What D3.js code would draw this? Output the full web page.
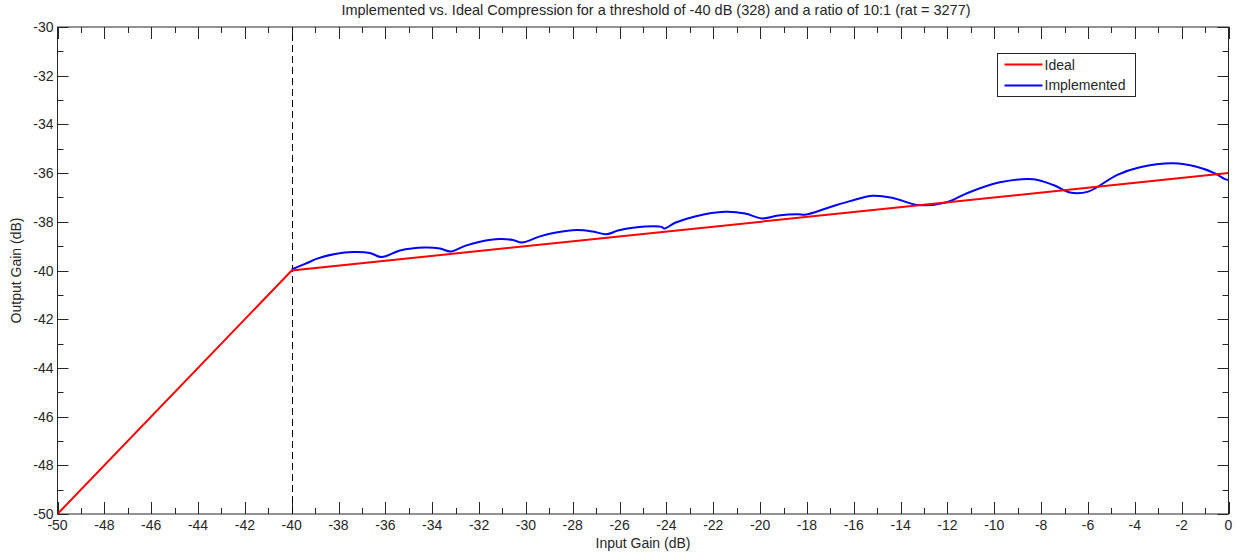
<!DOCTYPE html>
<html>
<head>
  <meta charset="UTF-8">
  <style>
    body { margin: 0; background: #fff; }
    text { font-family: "Liberation Sans", Arial, sans-serif; fill: #262626; }
  </style>
</head>
<body>
<svg></svg>
<script src="https://d3js.org/d3.v7.min.js"></script>

<script>

let width = 1238, height = 556;
let margin = {top: 27, right: 9.5, bottom: 42, left: 57.5};

// ideal compression curve (input dB, output dB)
const idealX = [-50, -40, 0];
const idealY = [-50, -40, -36];

// implemented curve
const implX = [-40, -39.43, -38.88, -38.15, -37.37, -36.66, -36.16,
    -35.38, -34.31, -33.67, -33.21,
    -32.60, -31.96, -31.11, -30.55, -30.17,
    -29.40, -28.71, -27.83, -27.14, -26.55,
    -26.07, -25.43, -24.20, -24.10,
    -23.63, -22.78, -21.50, -20.64, -19.93,
    -19.23, -18.38, -18.08,
    -17.00, -16.16, -15.18, -14.33, -13.25,
    -12.03, -11.18, -9.76, -8.34, -7.48, -6.77, -5.99,
    -4.77, -3.78, -2.36, -1.36, -0.58, -0.15, 0];
const implY = [-39.95, -39.73, -39.50, -39.32, -39.24, -39.28, -39.45,
    -39.18, -39.06, -39.10, -39.22,
    -38.99, -38.82, -38.71, -38.75, -38.85,
    -38.60, -38.44, -38.34, -38.40, -38.51,
    -38.36, -38.24, -38.21, -38.28,
    -38.04, -37.78, -37.59, -37.66, -37.86,
    -37.74, -37.69, -37.71,
    -37.39, -37.15, -36.93, -37.02, -37.31,
    -37.20, -36.83, -36.38, -36.25, -36.49, -36.80, -36.76,
    -36.08, -35.76, -35.60, -35.74, -36.01, -36.25, -36.28];

const threshold = -40;
const xTicks = d3.range(-50, 1, 2);
const yTicks = d3.range(-50, -29, 2);
const xMinor = d3.range(-49, 0, 2);
const yMinor = d3.range(-49, -30, 2);

const titleText = "Implemented vs. Ideal Compression for a threshold of -40 dB (328) and a ratio of 10:1 (rat = 3277)";
const xLabel = "Input Gain (dB)";
const yLabel = "Output Gain (dB)";
const legendNames = ["Ideal", "Implemented"];
const legendColors = ["#ff0000", "#0000ff"];

let svg = d3.select("svg")
    .attr("width", width)
    .attr("height", height);

let x = d3.scaleLinear().domain([-50, 0]).range([margin.left, width - margin.right]);
let y = d3.scaleLinear().domain([-50, -30]).range([height - margin.bottom, margin.top]);

let x0 = x.range()[0], x1 = x.range()[1];
let y0 = y.range()[0], y1 = y.range()[1];

// ticks, drawn inward on all four sides
let ticks = svg.append("g").attr("stroke", "#262626").attr("stroke-width", 1);
function tickSet(vals, len, horiz) {
    vals.forEach(v => {
        if (horiz) {
            let px = Math.round(x(v)) + 0.5;
            ticks.append("line").attr("x1", px).attr("x2", px).attr("y1", y0).attr("y2", y0 - len);
            ticks.append("line").attr("x1", px).attr("x2", px).attr("y1", y1).attr("y2", y1 + len);
        } else {
            let py = Math.round(y(v)) + 0.5;
            ticks.append("line").attr("y1", py).attr("y2", py).attr("x1", x0).attr("x2", x0 + len);
            ticks.append("line").attr("y1", py).attr("y2", py).attr("x1", x1).attr("x2", x1 - len);
        }
    });
}
tickSet(xTicks, 12, true);
tickSet(xMinor, 6, true);
tickSet(yTicks, 11, false);
tickSet(yMinor, 6, false);

// tick labels
svg.append("g").selectAll("text")
    .data(xTicks)
    .enter()
    .append("text")
    .attr("x", d => x(d))
    .attr("y", y0 + 16)
    .attr("text-anchor", "middle")
    .style("font-size", "14px")
    .text(d => d);

svg.append("g").selectAll("text")
    .data(yTicks)
    .enter()
    .append("text")
    .attr("x", x0 - 4)
    .attr("y", d => y(d) + 5)
    .attr("text-anchor", "end")
    .style("font-size", "14px")
    .text(d => d);

// threshold marker
svg.append("line")
    .attr("x1", Math.round(x(threshold)) + 0.5)
    .attr("x2", Math.round(x(threshold)) + 0.5)
    .attr("y1", y0).attr("y2", y1)
    .attr("stroke", "#000")
    .attr("stroke-dasharray", "7,4");

let line = d3.line().x(d => x(d[0])).y(d => y(d[1]));

svg.append("path")
    .datum(d3.zip(implX, implY))
    .attr("d", line.curve(d3.curveCatmullRom.alpha(0.5)))
    .attr("fill", "none")
    .attr("stroke", legendColors[1])
    .attr("stroke-width", 2);

svg.append("path")
    .datum(d3.zip(idealX, idealY))
    .attr("d", d3.line().x(d => x(d[0])).y(d => y(d[1])))
    .attr("fill", "none")
    .attr("stroke", legendColors[0])
    .attr("stroke-width", 2);

// frame
svg.append("rect")
    .attr("x", x0).attr("y", y1)
    .attr("width", x1 - x0).attr("height", y0 - y1)
    .attr("fill", "none")
    .attr("stroke", "#262626");

// legend
let legend = svg.append("g").attr("transform", "translate(997.5,53.5)");
legend.append("rect")
    .attr("width", 138).attr("height", 43)
    .attr("fill", "#fff").attr("stroke", "#262626");
legend.selectAll("line")
    .data(legendNames)
    .enter()
    .append("line")
    .attr("x1", 7).attr("x2", 45)
    .attr("y1", (d, i) => 11 + i * 21).attr("y2", (d, i) => 11 + i * 21)
    .attr("stroke", (d, i) => legendColors[i])
    .attr("stroke-width", 2);
legend.selectAll("text")
    .data(legendNames)
    .enter()
    .append("text")
    .attr("x", 47)
    .attr("y", (d, i) => 16 + i * 20)
    .style("font-size", "14px")
    .text(d => d);

// titles
svg.append("text")
    .attr("x", 656).attr("y", 15)
    .attr("text-anchor", "middle")
    .style("font-size", "14.5px")
    .text(titleText);

svg.append("text")
    .attr("x", (x0 + x1) / 2).attr("y", 548)
    .attr("text-anchor", "middle")
    .style("font-size", "14px")
    .text(xLabel);

svg.append("text")
    .attr("transform", "translate(21," + ((y0 + y1) / 2) + ") rotate(-90)")
    .attr("text-anchor", "middle")
    .style("font-size", "14px")
    .text(yLabel);

</script>

</body>
</html>
